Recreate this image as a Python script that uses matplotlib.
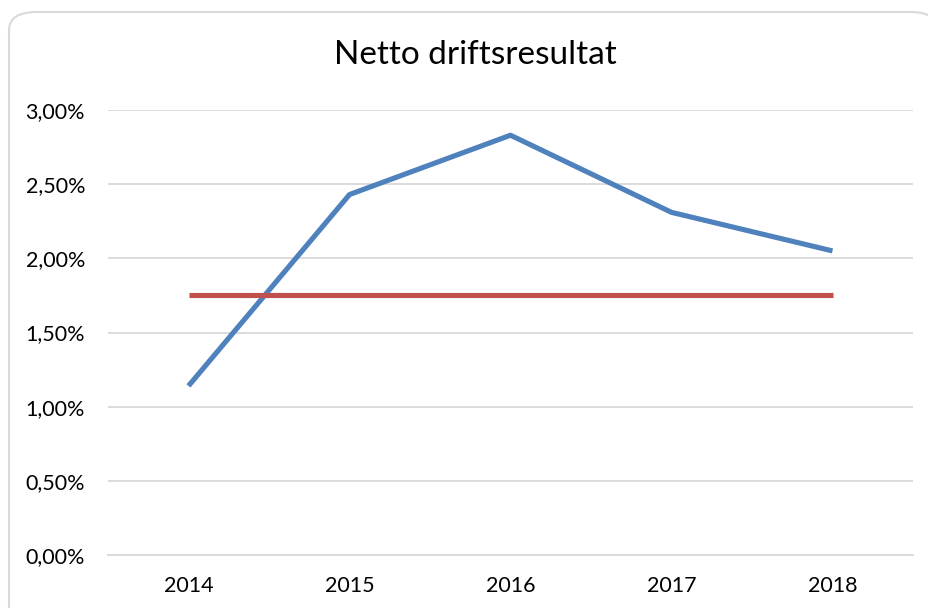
import matplotlib.pyplot as plt
from matplotlib.patches import FancyBboxPatch
from matplotlib.ticker import FuncFormatter

# Data
years = ["2014", "2015", "2016", "2017", "2018"]
netto = [1.14, 2.43, 2.83, 2.31, 2.05]
target = [1.75, 1.75, 1.75, 1.75, 1.75]
y_ticks = [0.0, 0.5, 1.0, 1.5, 2.0, 2.5, 3.0]

plt.rcParams["font.family"] = ["Lato", "DejaVu Sans"]

fig = plt.figure(figsize=(9.29, 6.08), dpi=100)

# rounded chart border (cut off at right/bottom like the original)
W, H = 929, 608
frame = FancyBboxPatch((9 / W, -0.05), 1.0, 1 - 12 / H + 0.05,
                       boxstyle="round,pad=0,rounding_size=0.03",
                       transform=fig.transFigure, facecolor="white",
                       edgecolor="#d9d9d9", linewidth=1.5, zorder=-1)
fig.patches.append(frame)

ax = fig.add_axes([108 / W, 1 - 555 / H, (913 - 108) / W, (555 - 110) / H])
ax.set_zorder(2)
ax.set_facecolor("none")

x = range(len(years))
ax.plot(x, netto, color="#4F81BD", linewidth=3.7, solid_capstyle="butt", zorder=3)
ax.plot(x, target, color="#C0504D", linewidth=3.7, solid_capstyle="butt", zorder=3)

ax.set_xlim(-0.5, len(years) - 0.5)
ax.set_ylim(0, 3.0)
ax.set_xticks(list(x))
ax.set_xticklabels(years)
ax.set_yticks(y_ticks)
ax.yaxis.set_major_formatter(FuncFormatter(lambda v, p: f"{v:.2f}%".replace(".", ",")))

ax.grid(axis="y", color="#d9d9d9", linewidth=1.3)
ax.set_axisbelow(True)
for s in ["top", "right", "left"]:
    ax.spines[s].set_visible(False)
ax.spines["bottom"].set_color("#d9d9d9")
ax.spines["bottom"].set_linewidth(1.3)
ax.tick_params(axis="both", length=0, labelsize=15.5, colors="black")
ax.tick_params(axis="y", pad=16.5)
ax.tick_params(axis="x", pad=15)

fig.text(475 / W, 1 - 55 / H, "Netto driftsresultat", ha="center", va="center", fontsize=24)

fig.savefig("out.png", dpi=100)
